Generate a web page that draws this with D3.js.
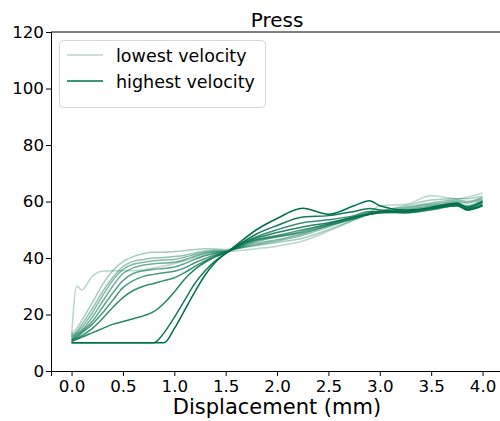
<!DOCTYPE html>
<html>
<head>
<meta charset="utf-8">
<script src="https://d3js.org/d3.v7.min.js"></script>
<style>
body { margin: 0; background: #fff; }
svg { font-family: 'DejaVu Sans', sans-serif; }
.tick line, .domain { stroke: #000; }
</style>
</head>
<body>
<div id="plot"></div>
<script>
// displacement samples (mm), shared by all runs
var disp = [0, 0.05, 0.1, 0.2, 0.3, 0.4, 0.5, 0.6, 0.7, 0.8, 0.9, 1.0, 1.1, 1.2, 1.3, 1.4, 1.5,
            1.6, 1.8, 2.0, 2.25, 2.5, 2.75, 2.9, 3.0, 3.25, 3.5, 3.75, 3.85, 4.0];

// force per run, lowest velocity first
var run0  = [12, 30, 28.7, 33.5, 35.3, 35.5, 35.5, 35.5, 35.8, 36.5, 37.2, 38, 39, 40, 41, 41.8, 42.2,
             42.5, 43.3, 44.2, 46, 49.5, 53.5, 56, 58.5, 59, 62, 61, 61.5, 63];
var run1  = [13, 15, 18, 24, 30.5, 35.5, 38.7, 40.5, 41.5, 42, 42, 42.3, 42.6, 43, 43.3, 43.2, 43,
             43.4, 44.4, 45.5, 47, 50, 53.5, 55.5, 56.5, 58.5, 60.5, 61, 61, 62];
var run2  = [12.5, 14, 16.5, 22, 28, 33, 37, 38.8, 39.5, 40, 40.2, 40.5, 41, 41.8, 42.5, 42.7, 42.6,
             43.2, 44.7, 46, 48, 51, 54, 55.5, 56.5, 58, 59.5, 60.5, 60, 61.5];
var run3  = [12, 13.5, 15.5, 20.5, 26.5, 32, 36, 37.8, 38.5, 39, 39.3, 39.5, 40.3, 41.2, 42, 42.4, 42.4,
             43.3, 45.2, 46.5, 48.5, 51.5, 54, 55.5, 56, 57.5, 59, 60, 59.5, 61];
var run4  = [11.5, 13, 14.5, 19, 24.5, 30, 34.5, 36.5, 37.5, 38, 38.2, 38.5, 39.4, 40.6, 41.6, 42.1, 42.2,
             43.4, 45.8, 47.5, 49.5, 52, 54.5, 55.5, 56, 57, 58.5, 59.5, 58.5, 60.5];
var run5  = [11, 12.5, 14, 17.5, 22.5, 27.5, 32, 34.5, 35.5, 36, 36.3, 36.8, 38, 39.5, 40.8, 41.7, 42,
             43.6, 46.3, 47.5, 49, 51.5, 54, 55.5, 56, 56.5, 58, 59, 58, 60];
var run6  = [11, 12, 13.5, 16.5, 20.5, 25, 29.5, 32, 33.5, 34.2, 34.8, 35.3, 36.5, 38.3, 39.8, 41.2, 41.9,
             43.8, 46.5, 48, 50, 52, 54.5, 55.5, 56, 56, 57.5, 59, 57.5, 59.5];
var run7  = [10.5, 11.5, 12.5, 15, 18.5, 22.5, 26, 28.5, 30, 31, 32, 33, 34.8, 37, 39, 40.8, 41.8,
             44.2, 47.5, 50, 52.5, 53.5, 55, 56.5, 56.5, 56, 57, 58.5, 57, 59];
var run8  = [10.5, 11.2, 12, 13.5, 15, 16.5, 17.5, 18.5, 19.5, 21, 24, 28, 32.5, 36, 38.5, 40.4, 41.8,
             44, 47, 49, 51, 52.5, 54.5, 56, 56.5, 56.5, 57.5, 58.5, 57.5, 58.5];
var run9  = [10, 10, 10, 10, 10, 10, 10, 10, 10, 10, 13.5, 19, 25, 31, 35.5, 39, 41.6,
             44, 48.5, 51.5, 54.5, 55, 56.5, 57.5, 57, 56.5, 58, 59.5, 58, 60];
var run10 = [10, 10, 10, 10, 10, 10, 10, 10, 10, 10, 10, 15, 21.5, 28, 34, 38.5, 41.6,
             44.5, 50, 54, 57.6, 55.5, 58.5, 60.3, 58.5, 57, 57.5, 59, 57, 58.5];
var runs = [run0, run1, run2, run3, run4, run5, run6, run7, run8, run9, run10];

var xTicks = [0, 0.5, 1, 1.5, 2, 2.5, 3, 3.5, 4];
var yTicks = [0, 20, 40, 60, 80, 100, 120];
var legendLabels = ["lowest velocity", "highest velocity"];

var W = 500, H = 421;
var color = "#00704a";

var svg = d3.select("#plot").append("svg").attr("width", W).attr("height", H);

var x = d3.scaleLinear().domain([-0.2, 4.2]).range([51, 503.1]);
var y = d3.scaleLinear().domain([0, 120]).range([371, 32]);

var opacity = d3.scaleLinear().domain([0, runs.length - 1]).range([0.28, 1]);

var line = d3.line()
  .x(function (d, i) { return x(disp[i]); })
  .y(function (d) { return y(d); })
  .curve(d3.curveMonotoneX);

svg.selectAll("path.run").data(runs).enter()
  .append("path")
  .attr("class", "run")
  .attr("d", line)
  .attr("fill", "none")
  .attr("stroke", color)
  .attr("stroke-width", 1.5)
  .attr("stroke-opacity", function (d, i) { return opacity(i); });

// axes
var xAxisG = svg.append("g").attr("transform", "translate(0,371)")
  .call(d3.axisBottom(x).tickValues(xTicks).tickFormat(d3.format(".1f")).tickSizeOuter(0).tickSize(5).tickPadding(4));
var yAxisG = svg.append("g").attr("transform", "translate(51,0)")
  .call(d3.axisLeft(y).tickValues(yTicks).tickSizeOuter(0).tickSize(5).tickPadding(2));
[xAxisG, yAxisG].forEach(function (g) {
  g.attr("font-family", "DejaVu Sans").attr("font-size", 16.7);
  g.selectAll("text").attr("fill", "#000");
});
svg.append("line").attr("x1", 51).attr("x2", 503).attr("y1", 32).attr("y2", 32).attr("stroke", "#000");

svg.append("text").attr("x", 277).attr("y", 26.5).attr("text-anchor", "middle")
  .style("font-size", "20px").text("Press");
svg.append("text").attr("x", 277).attr("y", 414).attr("text-anchor", "middle")
  .style("font-size", "21px").text("Displacement (mm)");

// legend
var legend = svg.append("g");
legend.append("rect").attr("x", 59.5).attr("y", 40.5).attr("width", 206).attr("height", 67)
  .attr("rx", 4).attr("fill", "#fff").attr("fill-opacity", 0.8).attr("stroke", "#d6d6d6");
legend.selectAll("g.item").data(legendLabels).enter().append("g")
  .attr("class", "item")
  .each(function (d, i) {
    var g = d3.select(this);
    var yy = 55 + i * 26;
    g.append("line").attr("x1", 67).attr("x2", 103).attr("y1", yy).attr("y2", yy)
      .attr("stroke", color).attr("stroke-width", 1.5)
      .attr("stroke-opacity", i === 0 ? opacity(0) : opacity(runs.length - 1));
    g.append("text").attr("x", 116).attr("y", yy + 6.5).style("font-size", "17.5px").text(d);
  });
</script>
</body>
</html>
